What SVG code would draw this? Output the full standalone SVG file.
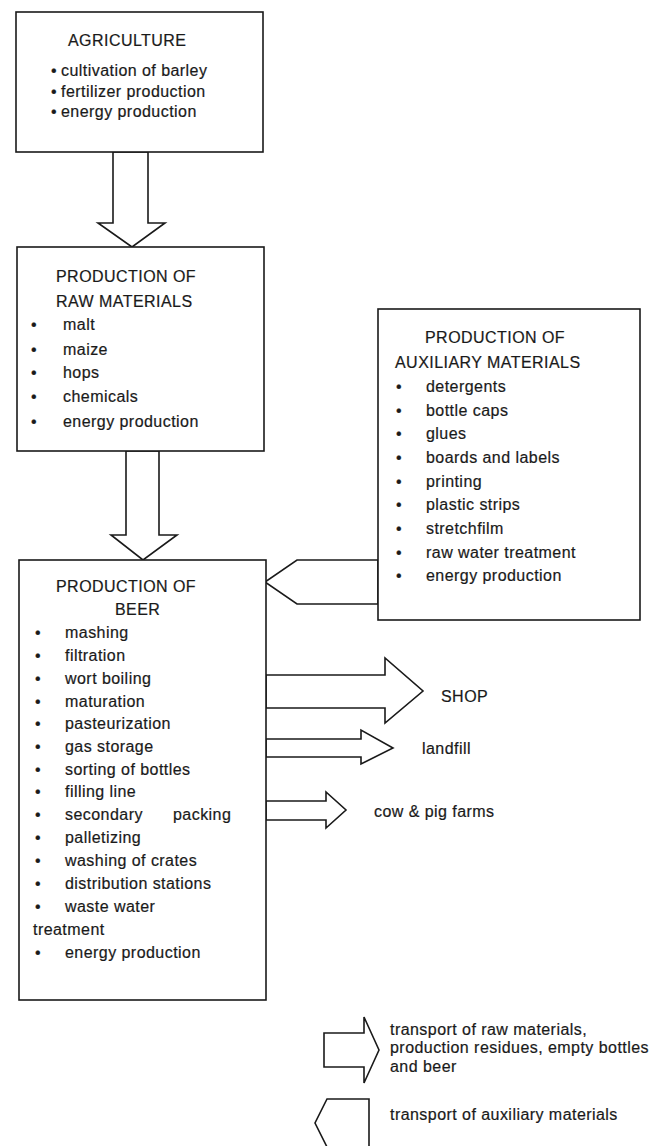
<svg xmlns="http://www.w3.org/2000/svg" width="665" height="1146" viewBox="0 0 665 1146">
<style>
.box{fill:#fff;stroke:#1a1a1a;stroke-width:1.6}
.arr{fill:#fff;stroke:#1a1a1a;stroke-width:1.6;stroke-linejoin:miter}
text{font-family:"Liberation Sans",Arial,Helvetica,sans-serif;font-size:16px;letter-spacing:0.45px;fill:#1a1a1a;stroke:#1a1a1a;stroke-width:0.2}
</style>
<rect width="665" height="1146" fill="#fff"/>
<g id="connectors">
<polygon class="arr" points="113,152 148,152 148,223 165,223 132,247 98,223 113,223"/>
<polygon class="arr" points="126,451 159,451 159,535 177,535 143,560 111,535 126,535"/>
<polygon class="arr" points="378,560 297,560 265,582 297,604 378,604"/>
<polygon class="arr" points="266,675 385,675 385,658 423,691 385,723 385,708 266,708"/>
<polygon class="arr" points="266,739 361,739 361,730 393,748 361,764 361,757 266,757"/>
<polygon class="arr" points="266,801 326,801 326,792 346,810 326,828 326,820 266,820"/>
</g>
<g id="agriculture">
<rect class="box" x="16" y="12" width="247" height="140"/>
<text x="68" y="46">AGRICULTURE</text>
<text x="51" y="76">•<tspan x="61">cultivation of barley</tspan></text>
<text x="51" y="97">•<tspan x="61">fertilizer production</tspan></text>
<text x="51" y="117">•<tspan x="61">energy production</tspan></text>
</g>
<g id="raw-materials">
<rect class="box" x="17" y="247" width="247" height="204"/>
<text x="56" y="282">PRODUCTION OF</text>
<text x="56" y="307">RAW MATERIALS</text>
<text x="31" y="330">•<tspan x="63">malt</tspan></text>
<text x="31" y="355">•<tspan x="63">maize</tspan></text>
<text x="31" y="378">•<tspan x="63">hops</tspan></text>
<text x="31" y="402">•<tspan x="63">chemicals</tspan></text>
<text x="31" y="427">•<tspan x="63">energy production</tspan></text>
</g>
<g id="auxiliary-materials">
<rect class="box" x="378" y="309" width="262" height="311"/>
<text x="425" y="343">PRODUCTION OF</text>
<text x="395" y="368">AUXILIARY MATERIALS</text>
<text x="396" y="392">•<tspan x="426">detergents</tspan></text>
<text x="396" y="416">•<tspan x="426">bottle caps</tspan></text>
<text x="396" y="439">•<tspan x="426">glues</tspan></text>
<text x="396" y="463">•<tspan x="426">boards and labels</tspan></text>
<text x="396" y="487">•<tspan x="426">printing</tspan></text>
<text x="396" y="510">•<tspan x="426">plastic strips</tspan></text>
<text x="396" y="534">•<tspan x="426">stretchfilm</tspan></text>
<text x="396" y="558">•<tspan x="426">raw water treatment</tspan></text>
<text x="396" y="581">•<tspan x="426">energy production</tspan></text>
</g>
<g id="beer">
<rect class="box" x="19" y="560" width="247" height="440"/>
<text x="56" y="592">PRODUCTION OF</text>
<text x="115" y="615">BEER</text>
<text x="35" y="638">•<tspan x="65">mashing</tspan></text>
<text x="35" y="661">•<tspan x="65">filtration</tspan></text>
<text x="35" y="684">•<tspan x="65">wort boiling</tspan></text>
<text x="35" y="707">•<tspan x="65">maturation</tspan></text>
<text x="35" y="729">•<tspan x="65">pasteurization</tspan></text>
<text x="35" y="752">•<tspan x="65">gas storage</tspan></text>
<text x="35" y="775">•<tspan x="65">sorting of bottles</tspan></text>
<text x="35" y="797">•<tspan x="65">filling line</tspan></text>
<text x="35" y="820">•<tspan x="65">secondary</tspan><tspan x="173">packing</tspan></text>
<text x="35" y="843">•<tspan x="65">palletizing</tspan></text>
<text x="35" y="866">•<tspan x="65">washing of crates</tspan></text>
<text x="35" y="889">•<tspan x="65">distribution stations</tspan></text>
<text x="35" y="912">•<tspan x="65">waste water</tspan></text>
<text x="33" y="935">treatment</text>
<text x="35" y="958">•<tspan x="65">energy production</tspan></text>
</g>
<g id="shop"><text x="441" y="702">SHOP</text></g>
<g id="landfill"><text x="422" y="754">landfill</text></g>
<g id="farms"><text x="374" y="817">cow &amp; pig farms</text></g>
<g id="legend">
<polygon class="arr" points="324,1033 364,1033 364,1017 379,1050 364,1083 364,1067 324,1067"/>
<text x="390" y="1035">transport of raw materials,</text>
<text x="390" y="1053">production residues, empty bottles</text>
<text x="390" y="1072">and beer</text>
<polygon class="arr" points="369,1099 327,1099 315,1123 327,1147 369,1147"/>
<text x="390" y="1120">transport of auxiliary materials</text>
</g>
</svg>
